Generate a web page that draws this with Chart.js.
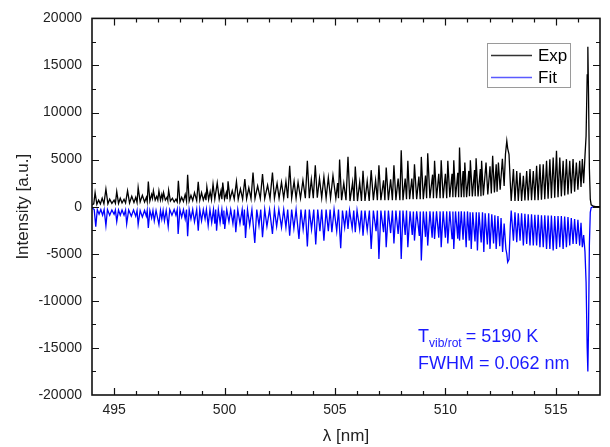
<!DOCTYPE html>
<html>
<head>
<meta charset="utf-8">
<script src="https://cdn.jsdelivr.net/npm/chart.js@4.4.0/dist/chart.umd.min.js"></script>
<style>
    body { margin: 0; background: #ffffff; }
    canvas { display: block; }
</style>
</head>
<body>
<canvas id="spectrumChart" width="610" height="447"></canvas>
<script>
const expX = [
    494.00, 494.08, 494.14, 494.22, 494.30, 494.38, 494.46, 494.54,
    494.63, 494.72, 494.80, 494.90, 495.00, 495.06, 495.12, 495.20,
    495.28, 495.36, 495.45, 495.52, 495.61, 495.70, 495.80, 495.90,
    495.98, 496.04, 496.09, 496.18, 496.28, 496.38, 496.46, 496.50,
    496.55, 496.62, 496.70, 496.74, 496.78, 496.86, 496.93, 496.98,
    497.03, 497.10, 497.16, 497.20, 497.24, 497.32, 497.40, 497.43,
    497.47, 497.55, 497.64, 497.72, 497.80, 497.86, 497.91, 497.98,
    498.06, 498.14, 498.22, 498.28, 498.33, 498.40, 498.48, 498.56,
    498.64, 498.74, 498.81, 498.88, 498.96, 499.04, 499.12, 499.16,
    499.20, 499.28, 499.35, 499.41, 499.48, 499.56, 499.67, 499.76,
    499.84, 499.88, 499.92, 500.00, 500.08, 500.12, 500.16, 500.25,
    500.35, 500.44, 500.54, 500.62, 500.72, 500.82, 500.92, 501.00,
    501.10, 501.20, 501.29, 501.38, 501.50, 501.62, 501.72, 501.82,
    501.95, 502.06, 502.17, 502.26, 502.38, 502.47, 502.58, 502.68,
    502.78, 502.86, 502.95, 503.04, 503.15, 503.24, 503.33, 503.44,
    503.55, 503.66, 503.75, 503.84, 503.93, 504.02, 504.11, 504.20,
    504.30, 504.40, 504.50, 504.60, 504.70, 504.80, 504.91, 505.04,
    505.12, 505.16, 505.21, 505.30, 505.40, 505.50, 505.59, 505.68,
    505.80, 505.86, 505.92, 506.02, 506.12, 506.20, 506.27, 506.36,
    506.46, 506.55, 506.64, 506.74, 506.84, 506.92, 506.99, 507.08,
    507.20, 507.26, 507.32, 507.42, 507.52, 507.60, 507.67, 507.76,
    507.86, 507.94, 508.00, 508.08, 508.18, 508.24, 508.30, 508.38,
    508.48, 508.54, 508.60, 508.70, 508.80, 508.86, 508.91, 509.00,
    509.10, 509.15, 509.20, 509.30, 509.42, 509.46, 509.51, 509.60,
    509.70, 509.76, 509.81, 509.90, 510.00, 510.06, 510.11, 510.20,
    510.30, 510.34, 510.38, 510.46, 510.56, 510.60, 510.64, 510.72,
    510.80, 510.84, 510.88, 510.96, 511.06, 511.09, 511.13, 511.22,
    511.32, 511.35, 511.39, 511.48, 511.58, 511.61, 511.64, 511.72,
    511.84, 511.92, 512.02, 512.08, 512.14, 512.22, 512.30, 512.34,
    512.40, 512.48, 512.58, 512.66, 512.72, 512.78, 512.82, 512.88,
    512.94, 512.98, 513.08, 513.15, 513.23, 513.30, 513.38, 513.45,
    513.53, 513.60, 513.68, 513.75, 513.83, 513.90, 513.98, 514.05,
    514.13, 514.20, 514.28, 514.35, 514.43, 514.50, 514.58, 514.65,
    514.73, 514.80, 514.88, 514.95, 515.03, 515.10, 515.18, 515.25,
    515.33, 515.40, 515.48, 515.55, 515.63, 515.70, 515.78, 515.85,
    515.93, 516.00, 516.08, 516.14, 516.20, 516.26, 516.32, 516.37,
    516.42, 516.45, 516.48, 516.52, 516.56, 516.60, 516.70, 516.80, 517.00
];
const expY = [
    200, 300, 1500, 250, 700, 300, 900, 300,
    1870, 300, 800, 350, 700, 350, 1620, 350,
    900, 400, 800, 400, 1690, 400, 1100, 450,
    1000, 450, 2050, 500, 1200, 500, 1000, 550,
    2680, 600, 1300, 900, 1700, 700, 1100, 700,
    1690, 700, 1300, 800, 1500, 700, 1000, 700,
    1760, 600, 900, 500, 800, 500, 2750, 500,
    1000, 550, 1300, 600, 3390, 600, 1200, 650,
    1500, 650, 2650, 700, 1500, 700, 1300, 700,
    2100, 750, 1600, 750, 2400, 800, 2540, 800,
    1700, 800, 2570, 800, 1500, 800, 2700, 800,
    1700, 800, 2680, 800, 1900, 800, 2930, 850,
    2000, 850, 3630, 850, 2200, 850, 3460, 850,
    2300, 850, 3630, 900, 2500, 900, 2600, 900,
    2700, 900, 4340, 900, 2700, 900, 2600, 900,
    2800, 900, 4870, 900, 2900, 900, 4400, 950,
    3000, 950, 3170, 900, 3100, 900, 3300, 900,
    2500, 900, 5000, 700, 2500, 700, 5290, 600,
    2600, 600, 4270, 600, 2600, 600, 3810, 600,
    2700, 600, 3880, 700, 2800, 700, 4410, 700,
    2800, 700, 4160, 700, 2900, 700, 4410, 700,
    3000, 700, 6000, 700, 3000, 800, 4870, 800,
    3000, 800, 4510, 800, 3200, 800, 5290, 800,
    3300, 900, 5680, 900, 3400, 900, 4870, 900,
    3500, 900, 4940, 900, 3500, 900, 4870, 1000,
    3500, 1000, 4940, 1000, 3600, 1000, 6280, 1000,
    3800, 1000, 4700, 1000, 3800, 1100, 4940, 1100,
    3900, 1100, 5150, 1100, 4000, 1100, 4870, 1200,
    4700, 1300, 4300, 1400, 5400, 1500, 4500, 1600,
    4700, 1800, 5100, 2200, 5600, 6980, 6200, 5570,
    2500, 600, 3990, 600, 3800, 600, 3600, 600,
    3280, 650, 3800, 650, 3990, 700, 3800, 700,
    4340, 700, 4510, 750, 4510, 800, 4870, 850,
    5050, 900, 5230, 950, 5930, 1000, 5230, 1100,
    4870, 1200, 5050, 1300, 4870, 1400, 5050, 1600,
    4700, 1800, 4870, 2100, 5050, 2500, 5400, 7500,
    14000, 17000, 12000, 4000, 800, 200, 50, 0, 0
];

// fitted spectrum (Fit), drawn mirrored below zero
const fitX = [
    494.00, 494.10, 494.17, 494.24, 494.32, 494.40, 494.48, 494.55,
    494.63, 494.70, 494.80, 494.90, 495.00, 495.06, 495.12, 495.20,
    495.28, 495.36, 495.45, 495.52, 495.57, 495.66, 495.78, 495.88,
    495.98, 496.04, 496.09, 496.18, 496.28, 496.38, 496.46, 496.50,
    496.55, 496.62, 496.70, 496.76, 496.82, 496.90, 497.03, 497.10,
    497.16, 497.22, 497.28, 497.36, 497.45, 497.52, 497.62, 497.72,
    497.80, 497.86, 497.90, 497.98, 498.06, 498.14, 498.22, 498.28,
    498.33, 498.40, 498.48, 498.56, 498.64, 498.74, 498.81, 498.88,
    498.96, 499.04, 499.12, 499.18, 499.26, 499.34, 499.42, 499.50,
    499.56, 499.60, 499.64, 499.72, 499.80, 499.88, 499.94, 499.97,
    500.01, 500.10, 500.20, 500.28, 500.38, 500.45, 500.51, 500.60,
    500.70, 500.80, 500.86, 500.90, 500.95, 501.04, 501.14, 501.24,
    501.37, 501.46, 501.56, 501.64, 501.72, 501.82, 501.92, 502.04,
    502.17, 502.26, 502.36, 502.46, 502.58, 502.68, 502.78, 502.86,
    502.95, 503.04, 503.14, 503.24, 503.37, 503.46, 503.56, 503.66,
    503.75, 503.84, 503.94, 504.04, 504.13, 504.22, 504.32, 504.40,
    504.50, 504.60, 504.70, 504.78, 504.86, 504.96, 505.08, 505.16,
    505.26, 505.34, 505.44, 505.52, 505.59, 505.66, 505.78, 505.85,
    505.92, 506.00, 506.12, 506.20, 506.27, 506.36, 506.46, 506.56,
    506.64, 506.74, 506.86, 506.92, 506.99, 507.08, 507.20, 507.26,
    507.32, 507.42, 507.52, 507.60, 507.67, 507.76, 507.86, 507.94,
    508.00, 508.08, 508.18, 508.24, 508.30, 508.40, 508.50, 508.55,
    508.60, 508.70, 508.82, 508.86, 508.91, 509.00, 509.10, 509.14,
    509.20, 509.30, 509.40, 509.45, 509.51, 509.60, 509.70, 509.76,
    509.81, 509.90, 510.00, 510.06, 510.11, 510.20, 510.30, 510.34,
    510.38, 510.46, 510.56, 510.60, 510.64, 510.72, 510.80, 510.86,
    510.94, 511.00, 511.08, 511.12, 511.17, 511.24, 511.34, 511.40,
    511.45, 511.52, 511.62, 511.68, 511.74, 511.80, 511.90, 511.96,
    512.02, 512.10, 512.18, 512.24, 512.30, 512.38, 512.46, 512.52,
    512.59, 512.66, 512.74, 512.78, 512.82, 512.88, 512.94, 512.98,
    513.08, 513.15, 513.23, 513.30, 513.38, 513.45, 513.53, 513.60,
    513.68, 513.75, 513.83, 513.90, 513.98, 514.05, 514.13, 514.20,
    514.28, 514.35, 514.43, 514.50, 514.58, 514.65, 514.73, 514.80,
    514.88, 514.95, 515.03, 515.10, 515.18, 515.25, 515.33, 515.40,
    515.48, 515.55, 515.63, 515.70, 515.78, 515.85, 515.93, 516.00,
    516.08, 516.14, 516.20, 516.26, 516.32, 516.37, 516.42, 516.45,
    516.48, 516.52, 516.56, 516.60, 516.70, 517.00
];
const fitY = [
    -100, -300, -2120, -300, -800, -300, -900, -300,
    -2010, -300, -900, -350, -800, -350, -1590, -350,
    -900, -350, -900, -350, -1830, -350, -1000, -350,
    -1000, -400, -1900, -400, -1100, -400, -1000, -400,
    -2260, -400, -1200, -400, -1500, -400, -1900, -400,
    -1300, -400, -1500, -400, -2120, -300, -900, -300,
    -900, -300, -2890, -300, -1100, -300, -1300, -300,
    -3140, -300, -1300, -300, -1600, -300, -2540, -300,
    -1500, -300, -1300, -300, -2000, -300, -1700, -300,
    -1800, -300, -2540, -300, -1700, -300, -1800, -400,
    -2360, -300, -1600, -300, -1800, -300, -2720, -300,
    -1800, -300, -2000, -300, -3320, -300, -2000, -300,
    -3840, -300, -2000, -300, -3240, -300, -2100, -300,
    -2890, -300, -2100, -300, -2200, -300, -2200, -300,
    -3070, -300, -2300, -300, -3420, -300, -2400, -300,
    -4230, -300, -2400, -300, -4020, -300, -2600, -300,
    -3600, -300, -2600, -300, -2720, -300, -2600, -300,
    -4410, -400, -2200, -400, -2360, -400, -2300, -400,
    -2700, -400, -2400, -400, -3070, -400, -2500, -400,
    -4480, -400, -2600, -400, -5540, -400, -2700, -400,
    -4300, -400, -2800, -400, -3900, -400, -2900, -400,
    -5540, -400, -3000, -400, -4300, -500, -3000, -500,
    -3600, -500, -3100, -500, -5710, -500, -3200, -500,
    -4130, -500, -3300, -500, -3420, -500, -3300, -500,
    -4300, -500, -3300, -500, -3900, -500, -3400, -500,
    -4480, -500, -3400, -500, -3600, -500, -3500, -500,
    -4300, -500, -3600, -600, -4480, -600, -3700, -600,
    -4660, -600, -3800, -600, -4800, -700, -4000, -700,
    -4480, -800, -3900, -900, -4480, -1000, -4200, -1200,
    -4800, -1800, -4500, -5000, -5890, -5600, -2000, -400,
    -3600, -600, -3770, -700, -3600, -700, -4130, -750,
    -3950, -800, -4130, -800, -4130, -850, -4130, -850,
    -4300, -900, -4300, -900, -4480, -950, -4480, -950,
    -4660, -1000, -4480, -1000, -4300, -1000, -4480, -1050,
    -4300, -1100, -4130, -1200, -3950, -1300, -3950, -1400,
    -4130, -1700, -4300, -3000, -4800, -8000, -15000, -17500,
    -13000, -4000, -600, -100, 0, 0
];

const seriesNames = ['Exp', 'Fit'];
const seriesColors = ['#000000', '#0000ff'];
const legendColors = ['#333333', '#5a5aff'];
const xTicks = [495, 500, 505, 510, 515];
const yTicks = [-20000, -15000, -10000, -5000, 0, 5000, 10000, 15000, 20000];
const xRange = [494, 517];
const yRange = [-20000, 20000];

const FONT = "'Liberation Sans', Arial, sans-serif";

function toPoints(xs, ys) {
    return xs.map((x, i) => ({ x: x, y: ys[i] }));
}

// closed frame with inward ticks on all four sides, like the original plot
const framePlugin = {
    id: 'frame',
    afterDatasetsDraw(chart) {
        const { ctx, chartArea: a, scales } = chart;
        const x = scales.x;
        const y = scales.y;
        ctx.save();
        ctx.strokeStyle = '#111';
        ctx.lineWidth = 1.2;
        ctx.beginPath();
        for (let v = xRange[0] + 1; v < xRange[1]; v++) {
            const px = Math.round(x.getPixelForValue(v)) + 0.5;
            const len = xTicks.includes(v) ? 7 : 4;
            ctx.moveTo(px, a.bottom);
            ctx.lineTo(px, a.bottom - len);
            ctx.moveTo(px, a.top);
            ctx.lineTo(px, a.top + len);
        }
        for (let v = yRange[0] + 2500; v < yRange[1]; v += 2500) {
            const py = Math.round(y.getPixelForValue(v)) + 0.5;
            const len = yTicks.includes(v) ? 7 : 4;
            ctx.moveTo(a.left, py);
            ctx.lineTo(a.left + len, py);
            ctx.moveTo(a.right, py);
            ctx.lineTo(a.right - len, py);
        }
        ctx.stroke();
        ctx.lineWidth = 1.6;
        ctx.strokeRect(a.left, a.top, a.right - a.left, a.bottom - a.top);
        ctx.restore();
    }
};

const legendPlugin = {
    id: 'boxLegend',
    afterDraw(chart) {
        const ctx = chart.ctx;
        ctx.save();
        ctx.strokeStyle = '#9a9a9a';
        ctx.lineWidth = 1;
        ctx.strokeRect(487.5, 43.5, 83, 44);
        ctx.font = '17px ' + FONT;
        ctx.textBaseline = 'middle';
        ctx.textAlign = 'left';
        seriesNames.forEach((name, i) => {
            const cy = 55.5 + i * 22;
            ctx.beginPath();
            ctx.strokeStyle = legendColors[i];
            ctx.lineWidth = 1.5;
            ctx.moveTo(491, cy);
            ctx.lineTo(532, cy);
            ctx.stroke();
            ctx.fillStyle = '#000';
            ctx.fillText(name, 538, cy + 1);
        });
        ctx.restore();
    }
};

const notePlugin = {
    id: 'fitNote',
    afterDraw(chart) {
        const ctx = chart.ctx;
        ctx.save();
        ctx.fillStyle = '#1a1aff';
        ctx.textBaseline = 'alphabetic';
        ctx.textAlign = 'left';
        ctx.font = '18px ' + FONT;
        let cx = 418;
        ctx.fillText('T', cx, 342);
        cx += ctx.measureText('T').width;
        ctx.font = '12px ' + FONT;
        ctx.fillText('vib/rot', cx, 347);
        cx += ctx.measureText('vib/rot').width + 4;
        ctx.font = '18px ' + FONT;
        ctx.fillText('= 5190 K', cx, 342);
        ctx.fillText('FWHM = 0.062 nm', 418, 369);
        ctx.restore();
    }
};

new Chart(document.getElementById('spectrumChart'), {
    type: 'line',
    data: {
        datasets: [
            {
                label: seriesNames[0],
                data: toPoints(expX, expY),
                borderColor: seriesColors[0],
                borderWidth: 1.3,
                pointRadius: 0,
                tension: 0,
                fill: false
            },
            {
                label: seriesNames[1],
                data: toPoints(fitX, fitY),
                borderColor: seriesColors[1],
                borderWidth: 1.3,
                pointRadius: 0,
                tension: 0,
                fill: false
            }
        ]
    },
    options: {
        responsive: false,
        animation: false,
        layout: {
            padding: { top: 17, right: 10, left: 0, bottom: 0 }
        },
        plugins: {
            legend: { display: false },
            tooltip: { enabled: false }
        },
        scales: {
            x: {
                type: 'linear',
                min: xRange[0],
                max: xRange[1],
                afterBuildTicks: scale => { scale.ticks = xTicks.map(v => ({ value: v })); },
                afterFit: scale => { scale.height = 52; },
                grid: { display: false, drawTicks: false },
                border: { display: false },
                ticks: {
                    padding: 7,
                    color: '#222',
                    font: { family: FONT, size: 14 },
                    maxRotation: 0,
                    callback: v => String(v)
                },
                title: {
                    display: true,
                    text: 'λ [nm]',
                    color: '#222',
                    font: { family: FONT, size: 17 },
                    padding: { top: 0, bottom: 0 }
                }
            },
            y: {
                type: 'linear',
                min: yRange[0],
                max: yRange[1],
                afterBuildTicks: scale => { scale.ticks = yTicks.map(v => ({ value: v })); },
                afterFit: scale => { scale.width = 92; },
                grid: { display: false, drawTicks: false },
                border: { display: false },
                ticks: {
                    padding: 10,
                    color: '#222',
                    font: { family: FONT, size: 14 },
                    callback: v => String(v)
                },
                title: {
                    display: true,
                    text: 'Intensity [a.u.]',
                    color: '#222',
                    font: { family: FONT, size: 17 },
                    padding: { top: 13, bottom: 0 }
                }
            }
        }
    },
    plugins: [framePlugin, legendPlugin, notePlugin]
});
</script>
</body>
</html>
